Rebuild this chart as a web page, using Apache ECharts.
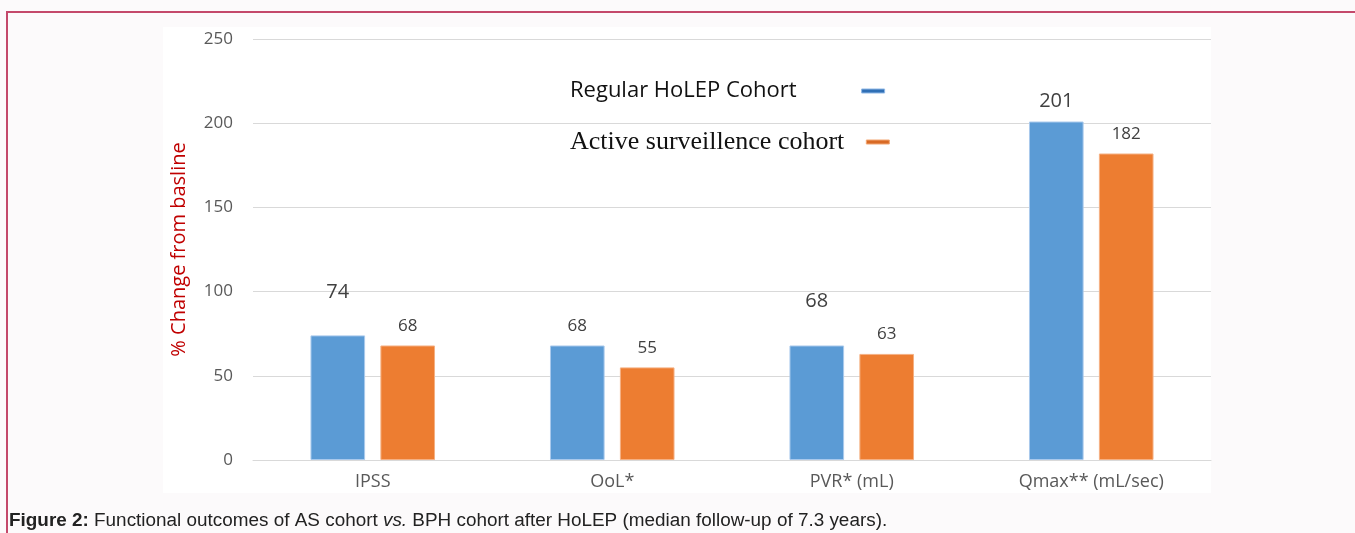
<!DOCTYPE html>
<html>
<head>
<meta charset="utf-8">
<script src="https://cdn.jsdelivr.net/npm/echarts@6/dist/echarts.min.js"></script>
<style>
  html, body { margin: 0; padding: 0; background: #fcfafb; }
  #container { width: 1355px; height: 533px; }
</style>
</head>
<body>
<div id="container"></div>
<script>
const categories = ["IPSS", "OoL*", "PVR* (mL)", "Qmax** (mL/sec)"];
const regularValues = [74, 68, 68, 201];
const activeValues = [68, 55, 63, 182];
const seriesNames = ["Regular HoLEP Cohort", "Active surveillence cohort"];

const dom = document.getElementById("container");
const myChart = echarts.init(dom, null, { renderer: "canvas" });

// the blue labels are not all the same size in the figure
const smallLabel = { fontSize: 17, distance: 11 };
const bigLabels = {
  0: { fontSize: 20, distance: 33 },
  2: { fontSize: 20, distance: 34 },
  3: { fontSize: 20, distance: 10 },
};

function barData(values, special) {
  return values.map(function (v, i) {
    const l = (special && special[i]) || smallLabel;
    return { value: v, label: { fontSize: l.fontSize, distance: l.distance } };
  });
}

const option = {
  backgroundColor: "#fcfafb",
  animation: false,
  graphic: [
    { type: "rect", shape: { x: 163, y: 27, width: 1048, height: 466 }, style: { fill: "#ffffff" }, z: -10 },
    { type: "rect", shape: { x: 7, y: 11, width: 1348, height: 2 }, style: { fill: "#c4496b" } },
    { type: "rect", shape: { x: 6, y: 11, width: 2, height: 522 }, style: { fill: "#c4496b" } },
    {
      type: "text",
      x: 9,
      y: 512,
      scaleX: 1.05,
      style: {
        text: "{b|Figure 2:} Functional outcomes of AS cohort {i|vs.} BPH cohort after HoLEP (median follow-up of 7.3 years).",
        fontFamily: "Liberation Sans",
        fontSize: 18,
        fill: "#222222",
        rich: {
          b: { fontWeight: "bold", fontFamily: "Liberation Sans", fontSize: 18, fill: "#222222" },
          i: { fontStyle: "italic", fontFamily: "Liberation Sans", fontSize: 18, fill: "#222222" },
        },
      },
    },
  ],
  legend: [
    {
      left: 565,
      top: 75,
      data: [seriesNames[0]],
      align: "right",
      icon: "rect",
      itemWidth: 23,
      itemHeight: 4,
      itemStyle: { color: "#2f6fb5", borderColor: "#8fb8e6", borderWidth: 1 },
      textStyle: { fontFamily: "Open Sans", fontSize: 22, color: "#111111", padding: [0, 60, 8, 0] },
      selectedMode: false,
    },
    {
      left: 565,
      top: 124,
      data: [seriesNames[1]],
      align: "right",
      icon: "rect",
      itemWidth: 23,
      itemHeight: 4,
      itemStyle: { color: "#d86a25", borderColor: "#f2a673", borderWidth: 1 },
      textStyle: { fontFamily: "Liberation Serif", fontSize: 26, color: "#111111", padding: [0, 17, 6, 0] },
      selectedMode: false,
    },
  ],
  grid: { left: 253, right: 144, top: 39, bottom: 73 },
  xAxis: {
    type: "category",
    data: categories,
    axisLine: { lineStyle: { color: "#d9d9d9", width: 1 } },
    axisTick: { show: false },
    axisLabel: { color: "#595959", fontSize: 18, fontFamily: "Open Sans", margin: 13 },
  },
  yAxis: {
    type: "value",
    min: 0,
    max: 250,
    interval: 50,
    name: "% Change from basline",
    nameLocation: "middle",
    nameGap: 64,
    nameTextStyle: { color: "#c00000", fontSize: 20, fontFamily: "Open Sans" },
    axisLine: { show: false },
    axisTick: { show: false },
    axisLabel: { color: "#595959", fontSize: 17, fontFamily: "Open Sans", margin: 20 },
    splitLine: { lineStyle: { color: "#d9d9d9", width: 1 } },
  },
  series: [
    {
      name: seriesNames[0],
      type: "bar",
      data: barData(regularValues, bigLabels),
      barGap: "28%",
      barCategoryGap: "48%",
      itemStyle: { color: "#5b9bd5", borderColor: "#a9c9ec", borderWidth: 1 },
      label: { show: true, position: "top", color: "#404040", fontFamily: "Open Sans" },
    },
    {
      name: seriesNames[1],
      type: "bar",
      data: barData(activeValues, null),
      itemStyle: { color: "#ed7d31", borderColor: "#f5b083", borderWidth: 1 },
      label: { show: true, position: "top", color: "#404040", fontFamily: "Open Sans" },
    },
  ],
};

myChart.setOption(option);
window.addEventListener("resize", myChart.resize);
</script>
</body>
</html>
